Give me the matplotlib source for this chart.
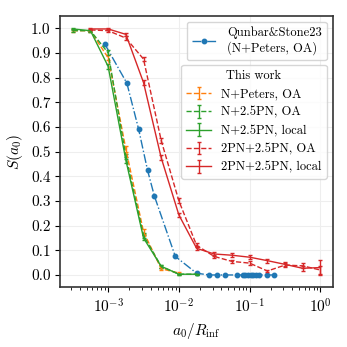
import numpy as np
import matplotlib
matplotlib.use("Agg")
import matplotlib.pyplot as plt

plt.rcParams['font.family'] = 'serif'
plt.rcParams['font.serif'] = ['cmr10', 'DejaVu Serif']
plt.rcParams['mathtext.fontset'] = 'cm'
plt.rcParams['axes.formatter.use_mathtext'] = True
plt.rcParams['axes.unicode_minus'] = False
plt.rcParams['font.size'] = 11
plt.rcParams['axes.edgecolor'] = '#333333'
plt.rcParams['axes.linewidth'] = 1.2

# grid of a0/R_inf values
x_green = [3.16e-4, 5.62e-4, 1.0e-3, 1.78e-3, 3.16e-3, 5.62e-3, 1.0e-2, 1.78e-2]
x_orange = [3.16e-4, 5.62e-4, 1.0e-3, 1.78e-3, 3.16e-3, 5.62e-3, 1.0e-2]
x_red = [5.62e-4, 1.0e-3, 1.78e-3, 3.16e-3, 5.62e-3, 1.0e-2, 1.78e-2, 3.16e-2,
         5.62e-2, 0.1, 0.178, 0.316, 0.562, 1.0]

# Qunbar & Stone 23
x_qs = [9.0e-4, 1.84e-3, 2.7e-3, 3.6e-3, 4.5e-3, 8.9e-3, 1.78e-2, 2.7e-2, 3.5e-2,
        4.5e-2, 6.7e-2, 8.0e-2, 8.7e-2, 9.5e-2, 0.103, 0.112, 0.122, 0.135, 0.178, 0.224]
y_qs = [0.935, 0.777, 0.59, 0.425, 0.32, 0.075, 0.007, 0.0, 0.0,
        0.0, 0.0, 0.0, 0.0, 0.0, 0.0, 0.0, 0.0, 0.0, 0.0, 0.0]

# This work
y_np_oa = [0.99, 0.99, 0.88, 0.51, 0.175, 0.025, 0.008]
e_np_oa = [0.005, 0.004, 0.010, 0.012, 0.010, 0.005, 0.003]

y_g_oa = [0.99, 0.99, 0.90, 0.48, 0.16, 0.035, 0.003, 0.003]
e_g_oa = [0.005, 0.004, 0.010, 0.012, 0.010, 0.005, 0.002, 0.002]

y_g_loc = [0.997, 0.99, 0.845, 0.465, 0.15, 0.035, 0.003, 0.003]
e_g_loc = [0.004, 0.004, 0.010, 0.012, 0.010, 0.005, 0.002, 0.002]

y_r_oa = [0.993, 0.99, 0.96, 0.875, 0.545, 0.30, 0.12, 0.075, 0.055, 0.048,
          0.016, 0.04, 0.037, 0.02]
e_r_oa = [0.004, 0.005, 0.007, 0.008, 0.010, 0.010, 0.008, 0.007, 0.007, 0.007,
          0.006, 0.008, 0.010, 0.015]

y_r_loc = [0.997, 0.997, 0.975, 0.78, 0.475, 0.243, 0.108, 0.085, 0.08, 0.072,
           0.058, 0.043, 0.027, 0.03]
e_r_loc = [0.003, 0.004, 0.007, 0.010, 0.010, 0.010, 0.008, 0.007, 0.008, 0.008,
           0.008, 0.008, 0.010, 0.03]

fig = plt.figure(figsize=(3.47, 3.47), dpi=100)
ax = fig.add_axes([0.174, 0.172, 0.785, 0.783])

ax.grid(True, color='#eeeeee', linewidth=0.8)
ax.set_axisbelow(True)

hq, = ax.plot(x_qs, y_qs, '-.', color='tab:blue', marker='o', markersize=3.2,
              linewidth=1.0, label='Qunbar&Stone23\n(N+Peters, OA)')

kw = dict(capsize=1.5, linewidth=1.0, elinewidth=1.0, capthick=1.0)
h1 = ax.errorbar(x_orange, y_np_oa, yerr=e_np_oa, color='tab:orange', linestyle='--',
                 label='N+Peters, OA', **kw)
h2 = ax.errorbar(x_green, y_g_oa, yerr=e_g_oa, color='tab:green', linestyle='--',
                 label='N+2.5PN, OA', **kw)
h3 = ax.errorbar(x_green, y_g_loc, yerr=e_g_loc, color='tab:green', linestyle='-',
                 label='N+2.5PN, local', **kw)
h4 = ax.errorbar(x_red, y_r_oa, yerr=e_r_oa, color='tab:red', linestyle='--',
                 label='2PN+2.5PN, OA', **kw)
h5 = ax.errorbar(x_red, y_r_loc, yerr=e_r_loc, color='tab:red', linestyle='-',
                 label='2PN+2.5PN, local', **kw)

ax.set_xscale('log')
ax.set_yticks(np.arange(0, 1.01, 0.1))
ax.set_yticklabels([f'{v:.1f}' for v in np.arange(0, 1.01, 0.1)])
ax.set_xlabel(r'$a_0/R_{\rm inf}$')
ax.set_ylabel(r'$S(a_0)$')

leg1 = ax.legend(handles=[hq], loc='upper right', fontsize=9)
ax.add_artist(leg1)
ax.legend(handles=[h1, h2, h3, h4, h5], title='This work', loc='upper right',
          bbox_to_anchor=(1.0, 0.842), fontsize=9, title_fontsize=9)

fig.savefig('out.png', dpi=100)
